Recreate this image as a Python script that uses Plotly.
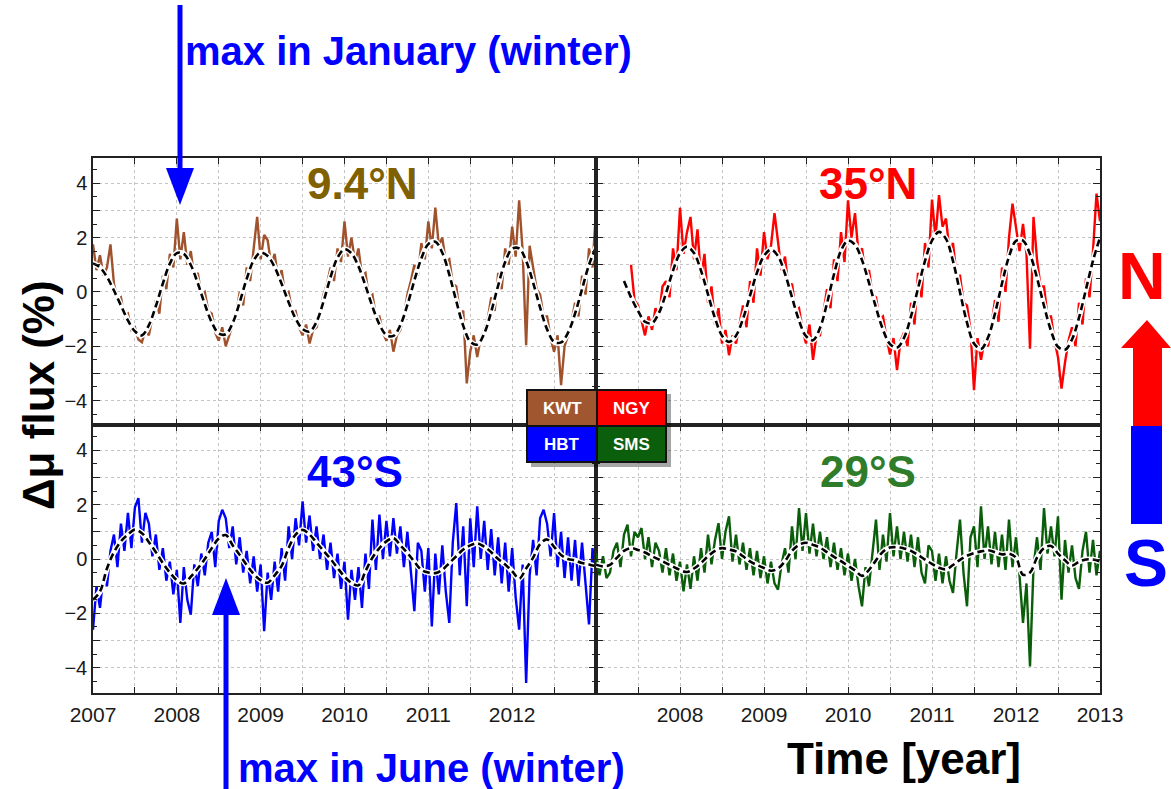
import plotly.graph_objects as go

# ---------------------------------------------------------------- data
# Half-monthly muon-flux variation (%) per station, first sample index k0
# (t = 2007 + k/24), and the monthly running mean (t = 2007 + m/12).
KWT_K0 = 0
KWT_NOISY = [
    1.75, 0.8, 1.35, 0.6, 0.9, 1.75, 0.3, -0.3, -0.2, -0.9, -0.8, -1.4,
    -1.3, -1.75, -1.85, -1.4, -1.6, -1.0, -0.3, -0.8, 0.6, 0.1, 1.4, 0.9,
    2.7, 1.2, 2.2, 1.0, 1.5, 0.5, 0.7, -0.1, 0.0, -0.7, -0.8, -1.5,
    -1.8, -1.3, -2.0, -1.6, -1.2, -0.8, 0.0, -0.5, 0.9, 0.4, 1.6, 2.76,
    1.2, 2.1, 1.9, 1.0, 1.4, 0.5, 0.8, -0.1, 0.0, -0.7, -0.7, -1.3,
    -1.6, -1.2, -1.9, -1.4, -1.3, -0.7, -0.1, 0.3, 0.9, 0.4, 1.6, 1.1,
    2.6, 1.3, 2.0, 1.1, 1.6, 0.6, 0.7, -0.2, -0.1, -0.9, -0.9, -1.5,
    -1.8, -1.4, -2.2, -1.6, -1.4, -0.9, -0.1, 0.4, 1.0, 0.6, 1.8, 1.2,
    2.6, 1.6, 3.1, 1.7, 2.0, 1.1, 1.2, 0.3, 0.2, -0.8, -0.7, -3.37,
    -2.2, -1.6, -2.4, -1.7, -1.4, -1.0, -0.2, -0.7, 0.7, 0.1, 1.6, 1.0,
    2.4, 1.3, 3.37, 1.5, -1.96, 1.7, 0.9, 0.1, -0.1, -0.9, -0.9, -1.7,
    -2.2, -1.6, -3.43, -2.0, -1.6, -1.1, -0.4, -0.9, 0.6, -0.1, 1.6, 0.9,
    3.0,
]
KWT_M0 = 0
KWT_MEAN = [
    1.05, 0.9, 0.55, 0.05, -0.5, -1.05, -1.45, -1.6, -1.22, -0.52, 0.31, 1.04,
    1.43, 1.40, 0.99, 0.32, -0.45, -1.12, -1.53, -1.56, -1.14, -0.38, 0.48, 1.16,
    1.45, 1.32, 0.91, 0.30, -0.38, -0.98, -1.37, -1.46, -1.10, -0.35, 0.54, 1.26,
    1.57, 1.42, 0.94, 0.23, -0.54, -1.20, -1.59, -1.62, -1.22, -0.48, 0.42, 1.23,
    1.76, 1.85, 1.44, 0.64, -0.34, -1.25, -1.83, -1.94, -1.53, -0.73, 0.24, 1.10,
    1.59, 1.60, 1.14, 0.34, -0.58, -1.38, -1.84, -1.86, -1.5, -0.8, 0.1, 1.0,
    1.65,
]

NGY_K0 = 10
NGY_NOISY = [
    1.0, -0.3, -0.5, -1.0, -1.6, -0.9, -1.4, -0.6, -0.9, 0.2, 0.4, -0.2,
    1.6, 0.8, 3.1, 1.4, 2.2, 2.76, 1.2, 2.3, 0.5, 1.4, -0.4, 0.2,
    -1.2, -0.6, -1.9, -1.4, -2.33, -1.6, -1.9, -1.2, -0.5, -1.3, 0.4, -0.4,
    1.6, 0.6, 2.2, 1.2, 1.7, 2.9, 1.9, 0.8, 1.3, 0.1, 0.3, -0.7,
    -0.6, -1.4, -1.9, -1.2, -2.5, -1.6, -1.6, -0.8, 0.1, -0.6, 1.2, 0.4,
    2.2, 1.1, 3.37, 2.0, 2.9, 1.4, 1.6, 0.6, 0.8, -0.1, -0.2, -1.0,
    -0.9, -1.7, -2.3, -1.7, -2.88, -1.8, -1.5, -2.0, -0.4, -1.2, 0.7, -0.2,
    1.8, 0.9, 3.4, 2.0, 3.56, 2.4, 2.7, 1.5, 1.8, 0.6, 0.6, -0.4,
    -0.5, -1.4, -3.62, -1.7, -2.5, -1.8, -2.0, -1.2, -0.3, -1.1, 0.9, 0.0,
    2.0, 3.25, 2.4, 1.5, 2.5, 1.4, -2.09, 2.76, 1.2, 0.2, 0.2, -0.9,
    -0.9, -1.8, -2.4, -3.56, -2.6, -1.8, -1.3, -2.0, -0.4, -1.2, 0.5, -0.2,
    1.5, 3.62, 2.6,
]
NGY_M0 = 4
NGY_MEAN = [
    0.4, -0.2, -0.7, -1.1, -1.15, -0.77, -0.05, 0.78, 1.42, 1.66,
    1.43, 0.785, -0.09, -0.965, -1.61, -1.84, -1.61, -0.99, -0.14, 0.71,
    1.33, 1.56, 1.32, 0.67, -0.20, -1.05, -1.63, -1.78, -1.33, -0.42,
    0.65, 1.52, 1.89, 1.73, 1.17, 0.33, -0.58, -1.39, -1.92, -2.05,
    -1.69, -0.90, 0.13, 1.14, 1.89, 2.21, 1.95, 1.13, -0.01, -1.13,
    -1.90, -2.10, -1.68, -0.79, 0.31, 1.30, 1.88, 1.89, 1.39, 0.52,
    -0.51, -1.43, -2.02, -2.13, -1.75, -0.95, 0.1, 1.15, 2.0,
]

HBT_K0 = 0
HBT_NOISY = [
    -2.6, -1.0, -1.8, -0.6, -1.0, 0.3, 0.9, -0.3, 1.3, 0.3, 1.7, 0.4,
    1.9, 2.24, 0.6, 1.7, 1.3, 0.1, 0.9, -0.4, 0.4, -0.8, -0.1, -1.3,
    -0.4, -2.35, -0.3, -1.5, -2.05, -0.2, -1.0, 0.2, -0.6, 0.6, 1.0, -0.3,
    1.4, 1.81, 1.5, 0.4, 1.2, -0.2, 0.8, -0.5, 0.3, -0.9, 0.1, -1.2,
    -0.2, -2.66, -0.5, -1.5, -0.1, -1.2, 0.4, -0.8, 1.2, 0.0, 1.5, 0.5,
    2.12, 0.6, 1.6, 0.3, 1.2, 0.0, 0.9, -0.4, 0.6, -0.7, 0.2, -1.1,
    -0.1, -2.23, -0.4, -1.5, -0.3, -1.8, 0.2, -1.1, 1.45, -0.4, 1.63, 0.0,
    1.4, 0.1, 1.5, 0.2, 1.2, -0.3, 1.0, -0.6, -1.92, 0.6, 0.3, -1.2,
    0.4, -2.48, 0.2, -1.3, 0.5, -1.2, -2.35, 0.6, 2.06, -0.6, 1.2, -1.74,
    1.5, -0.3, 1.94, 0.0, 1.4, -0.4, 1.1, -0.6, 0.8, -0.9, 0.6, -1.2,
    0.4, -1.4, -2.6, -0.2, -4.56, -0.6, 0.7, -0.6, 1.5, 1.81, 1.3, 0.1,
    1.69, -0.3, 1.0, -0.7, 0.8, -0.8, 0.7, -1.0, 0.6, -0.9, -2.41, 0.4,
    -0.6,
]
HBT_M0 = 0
HBT_MEAN = [
    -1.5, -1.2, -0.35, 0.25, 0.65, 0.9, 1.08, 0.95, 0.62, 0.25, -0.15, -0.5,
    -0.78, -0.9, -0.65, -0.35, 0.0, 0.4, 0.75, 0.88, 0.5, 0.15, -0.22, -0.55,
    -0.78, -0.87, -0.6, -0.25, 0.4, 0.9, 1.07, 0.9, 0.6, 0.3, 0.0, -0.33,
    -0.65, -0.88, -0.97, -0.45, 0.05, 0.4, 0.65, 0.77, 0.5, 0.22, -0.1, -0.4,
    -0.5, -0.52, -0.4, -0.15, 0.1, 0.35, 0.5, 0.58, 0.45, 0.25, 0.0, -0.2,
    -0.45, -0.72, -0.35, 0.05, 0.55, 0.72, 0.45, 0.15, 0.0, -0.05, -0.15, -0.2,
    -0.27,
]

SMS_K0 = 0
SMS_NOISY = [
    0.2, -0.6, 0.1, -0.7, -0.5, 0.3, 0.6, -0.3, 0.9, 1.26, 0.1, 1.0,
    0.8, 1.14, 0.0, 0.8, -0.3, 0.6, 0.3, -0.5, 0.4, -0.6, 0.2, -0.8,
    -0.1, -1.19, -0.2, -1.1, 0.1, -0.8, 0.4, -0.5, 0.9, -0.2, 0.7, 1.32,
    0.0, 1.0, 1.57, -0.1, 0.9, -0.2, 0.6, -0.4, 0.4, -0.6, 0.3, -0.7,
    0.1, -0.9, -0.1, -0.9, -1.13, -0.2, 0.4, -0.5, 1.2, 0.0, 1.87, 0.3,
    1.69, 0.2, 1.3, 0.1, 1.0, 0.0, 0.8, -0.3, 0.6, -0.4, 0.4, -0.6,
    0.2, -0.8, 0.0, -1.0, -1.74, -0.3, -1.0, 0.2, 1.45, -0.4, 0.9, -0.1,
    1.69, 0.1, 1.2, 0.0, 1.0, -0.1, 0.9, -0.3, 0.8, -0.5, -0.9, 0.5,
    0.3, -0.8, 0.2, -0.9, 0.1, -0.8, -1.25, 0.2, 1.45, -0.5, -1.74, 0.8,
    1.2, -0.3, 1.94, 0.0, 1.2, -0.2, 1.0, -0.3, 0.9, -0.4, 1.45, -0.3,
    0.8, -0.6, -2.35, -0.9, -3.95, -0.3, 0.8, -0.4, 1.87, 0.2, 1.2, 0.1,
    1.57, -1.5, 0.7, -0.5, 0.5, -0.7, -1.1, 0.3, 1.0, -0.5, 0.7, -0.6,
    0.3,
]
SMS_M0 = 0
SMS_MEAN = [
    -0.21, -0.27, -0.22, 0.05, 0.3, 0.4, 0.33, 0.24, 0.1, -0.02, -0.15, -0.28,
    -0.4, -0.48, -0.35, -0.15, 0.1, 0.3, 0.4, 0.35, 0.28, 0.1, -0.09, -0.22,
    -0.33, -0.43, -0.35, -0.08, 0.3, 0.52, 0.6, 0.52, 0.42, 0.25, 0.08, -0.08,
    -0.25, -0.42, -0.62, -0.4, -0.05, 0.27, 0.42, 0.43, 0.39, 0.3, 0.15, -0.02,
    -0.18, -0.32, -0.38, -0.22, -0.03, 0.12, 0.22, 0.28, 0.32, 0.25, 0.17, 0.2,
    0.05, -0.58, -0.5, 0.05, 0.4, 0.48, 0.2, -0.05, -0.24, -0.1, -0.02, -0.02,
    -0.09,
]

STATIONS = ["KWT", "NGY", "HBT", "SMS"]
LATITUDES = ["9.4°N", "35°N", "43°S", "29°S"]
LINE_COLORS = ["#A0522D", "#FF0000", "#0000FF", "#0A5E0A"]
LABEL_COLORS = ["#806000", "#FF0000", "#0000FF", "#2F7D2A"]
BOX_COLORS = ["#A0562F", "#FF0000", "#0000FF", "#0B5E0B"]

YEAR_START, YEAR_END = 2007, 2013
Y_TICKS = [-4, -3, -2, -1, 0, 1, 2, 3, 4]
Y_TICK_TEXT = ["\u22124", "", "\u22122", "", "0", "", "2", "", "4"]
X_LABELS_LEFT = [2007, 2008, 2009, 2010, 2011, 2012]
X_LABELS_RIGHT = [2008, 2009, 2010, 2011, 2012, 2013]

series = [
    (KWT_K0, KWT_NOISY, KWT_M0, KWT_MEAN),
    (NGY_K0, NGY_NOISY, NGY_M0, NGY_MEAN),
    (HBT_K0, HBT_NOISY, HBT_M0, HBT_MEAN),
    (SMS_K0, SMS_NOISY, SMS_M0, SMS_MEAN),
]

# ---------------------------------------------------------------- layout helpers
W, H = 1171, 789


def fx(p):
    return p / W


def fy(p):
    return 1 - p / H


LEFT, MID, RIGHT = 93, 596, 1100
TOP, CENTER, BOTTOM = 158, 425, 693
x_domains = [[fx(LEFT), fx(MID)], [fx(MID), fx(RIGHT)]]
y_domains = [[fy(CENTER), fy(TOP)], [fy(BOTTOM), fy(CENTER)]]
y_ranges = [[-4.9, 4.93], [-4.93, 4.93]]

FONT = "Liberation Sans, Arial, sans-serif"

fig = go.Figure()

for i, (k0, noisy, m0, mean) in enumerate(series):
    ax = "" if i == 0 else str(i + 1)
    t_noisy = [YEAR_START + (k0 + j) / 24 for j in range(len(noisy))]
    t_mean = [YEAR_START + (m0 + j) / 12 for j in range(len(mean))]
    fig.add_trace(go.Scatter(
        x=t_noisy, y=noisy, mode="lines",
        line=dict(color=LINE_COLORS[i], width=2.4),
        xaxis="x" + ax, yaxis="y" + ax, showlegend=False, hoverinfo="skip"))
    fig.add_trace(go.Scatter(
        x=t_mean, y=mean, mode="lines", line_shape="spline",
        line=dict(color="white", width=5.5),
        xaxis="x" + ax, yaxis="y" + ax, showlegend=False, hoverinfo="skip"))
    fig.add_trace(go.Scatter(
        x=t_mean, y=mean, mode="lines", line_shape="spline",
        line=dict(color="black", width=2.6, dash="7px,4px"),
        xaxis="x" + ax, yaxis="y" + ax, showlegend=False, hoverinfo="skip"))

axis_common = dict(
    showline=True, linecolor="#222", linewidth=1.5, mirror="ticks",
    ticks="inside", tickcolor="#222", tickwidth=1.2,
    showgrid=True, gridcolor="#c4c4c4", griddash="dot", gridwidth=1,
    zeroline=False, fixedrange=True, automargin=False,
)

half_years = [YEAR_START + h / 2 for h in range(2 * (YEAR_END - YEAR_START) + 1)]

layout = {}
for i in range(4):
    row, col = divmod(i, 2)
    key = "" if i == 0 else str(i + 1)
    shown = X_LABELS_LEFT if col == 0 else X_LABELS_RIGHT
    xtext = [str(int(v)) if (row == 1 and v == int(v) and int(v) in shown) else ""
             for v in half_years]
    layout["xaxis" + key] = dict(
        axis_common, domain=x_domains[col], anchor="y" + key,
        range=[YEAR_START, YEAR_END], tickvals=half_years, ticktext=xtext,
        ticklen=6, tickfont=dict(family=FONT, size=21, color="#1a1a1a"),
        ticklabelstandoff=2,
    )
    layout["yaxis" + key] = dict(
        axis_common, domain=y_domains[row], anchor="x" + key,
        range=y_ranges[row], tickvals=Y_TICKS,
        ticktext=Y_TICK_TEXT if col == 0 else [""] * len(Y_TICKS),
        ticklen=7, tickfont=dict(family=FONT, size=20, color="#1a1a1a"),
        minor=dict(dtick=0.5, ticks="inside", ticklen=4, tickcolor="#222",
                   showgrid=False),
    )


def label(text, x, y, size, color, xanchor="center", **kw):
    return dict(text=text, x=fx(x), y=fy(y), xref="paper", yref="paper",
                xanchor=xanchor, yanchor="middle", showarrow=False,
                font=dict(family=FONT, size=size, color=color), **kw)


annotations = []
title_pos = [(362, 183), (868, 183), (355, 471), (868, 471)]
for i, (cx, cy) in enumerate(title_pos):
    annotations.append(label("<b>%s</b>" % LATITUDES[i], cx, cy, 44, LABEL_COLORS[i]))

# station key box
shapes = []
box_x = [527, 597, 666]
box_y = [390, 426, 462]
shapes.append(dict(type="rect", xref="paper", yref="paper",
                   x0=fx(box_x[0] + 4), x1=fx(box_x[2] + 5),
                   y0=fy(box_y[0] + 4), y1=fy(box_y[2] + 5),
                   fillcolor="rgba(0,0,0,0.35)", line=dict(width=0)))
for i, name in enumerate(STATIONS):
    r, c = divmod(i, 2)
    shapes.append(dict(type="rect", xref="paper", yref="paper",
                       x0=fx(box_x[c]), x1=fx(box_x[c + 1]),
                       y0=fy(box_y[r]), y1=fy(box_y[r + 1]),
                       fillcolor=BOX_COLORS[i], line=dict(color="#111", width=2)))
    annotations.append(label("<b>%s</b>" % name,
                             (box_x[c] + box_x[c + 1]) / 2,
                             (box_y[r] + box_y[r + 1]) / 2, 17, "white"))


def tri(p1, p2, p3):
    return "M %f,%f L %f,%f L %f,%f Z" % (fx(p1[0]), fy(p1[1]), fx(p2[0]), fy(p2[1]),
                                          fx(p3[0]), fy(p3[1]))


BLUE = "#0000FF"
RED = "#FF0000"
# arrow to the January maximum
shapes.append(dict(type="line", xref="paper", yref="paper",
                   x0=fx(180), x1=fx(180), y0=fy(5), y1=fy(172),
                   line=dict(color=BLUE, width=5)))
shapes.append(dict(type="path", xref="paper", yref="paper",
                   path=tri((166, 168), (194, 168), (180, 205)),
                   fillcolor=BLUE, line=dict(width=0)))
# arrow to the June maximum
shapes.append(dict(type="line", xref="paper", yref="paper",
                   x0=fx(226), x1=fx(226), y0=fy(789), y1=fy(611),
                   line=dict(color=BLUE, width=5)))
shapes.append(dict(type="path", xref="paper", yref="paper",
                   path=tri((212, 615), (240, 615), (226, 578)),
                   fillcolor=BLUE, line=dict(width=0)))
# north / south indicator
shapes.append(dict(type="path", xref="paper", yref="paper",
                   path=tri((1121, 348), (1171, 348), (1147, 320)),
                   fillcolor=RED, line=dict(width=0)))
shapes.append(dict(type="rect", xref="paper", yref="paper",
                   x0=fx(1133), x1=fx(1162), y0=fy(346), y1=fy(426),
                   fillcolor=RED, line=dict(width=0)))
shapes.append(dict(type="rect", xref="paper", yref="paper",
                   x0=fx(1131), x1=fx(1162), y0=fy(426), y1=fy(524),
                   fillcolor=BLUE, line=dict(width=0)))

annotations += [
    label("<b>max in January (winter)</b>", 183, 51, 40, BLUE, xanchor="left"),
    label("<b>max in June (winter)</b>", 236, 768, 40, BLUE, xanchor="left"),
    label("<b>N</b>", 1142, 276, 66, RED),
    label("<b>S</b>", 1146, 563, 66, BLUE),
    label("<b>Δμ flux (%)</b>", 38, 395, 44, "black", textangle=-90),
    label("<b>Time [year]</b>", 904, 758, 44, "black"),
]

fig.update_layout(
    width=W, height=H, margin=dict(l=0, r=0, t=0, b=0, autoexpand=False),
    paper_bgcolor="white", plot_bgcolor="white",
    showlegend=False, annotations=annotations, shapes=shapes,
    **layout,
)

fig.write_html("out.html")
